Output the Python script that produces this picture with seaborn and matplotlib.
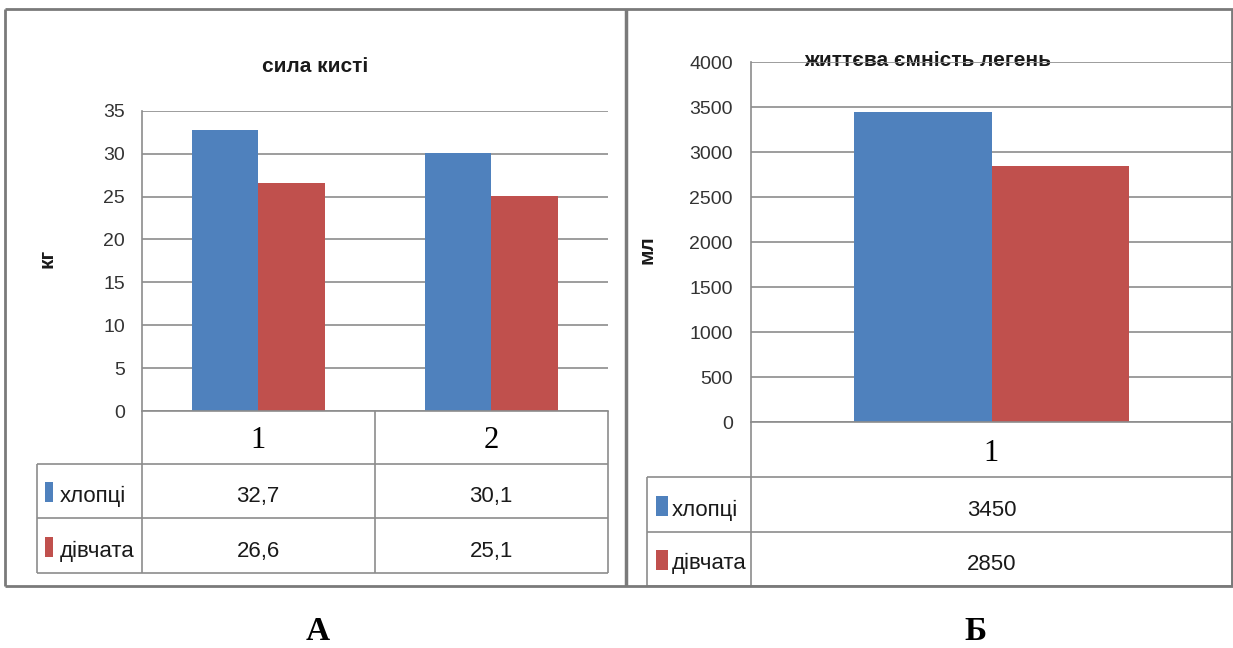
import matplotlib
matplotlib.use('Agg')
import matplotlib.pyplot as plt
import seaborn as sns
import pandas as pd
from matplotlib.transforms import Bbox, TransformedBbox

# ===== Дані =====
series = ['хлопці', 'дівчата']
colors = ['#4F81BD', '#C0504D']

# сила кисті, кг
sila_groups = ['1', '2']
sila_hloptsi = [32.7, 30.1]
sila_divchata = [26.6, 25.1]

# життєва ємність легень, мл
zhel_groups = ['1']
zhel_hloptsi = [3450]
zhel_divchata = [2850]

sila_yticks = [0, 5, 10, 15, 20, 25, 30, 35]
zhel_yticks = [0, 500, 1000, 1500, 2000, 2500, 3000, 3500, 4000]

# ===== Оформлення =====
sns.set_theme(style='white')
plt.rcParams['font.family'] = ['Liberation Sans', 'DejaVu Sans']

W, H = 1233, 648
GRID = '#8c8c8c'
LINE = '#8c8c8c'
TXT = '#1a1a1a'

fig = plt.figure(figsize=(W / 100, H / 100), dpi=100)
fig.patch.set_facecolor('white')


def box(x0, y0, x1, y1):
    # пікселі -> частки фігури
    return [x0 / W, 1 - y1 / H, (x1 - x0) / W, (y1 - y0) / H]


# фонова вісь у пікселях для рамок, таблиць і підписів
bg = fig.add_axes([0, 0, 1, 1], zorder=0)
bg.set_xlim(0, W)
bg.set_ylim(H, 0)
bg.axis('off')


def hline(y, x0, x1, color=LINE, lw=1.2):
    bg.plot([x0, x1], [y, y], color=color, lw=lw, solid_capstyle='butt')


def vline(x, y0, y1, color=LINE, lw=1.2):
    bg.plot([x, x], [y0, y1], color=color, lw=lw, solid_capstyle='butt')


def draw_chart(rect, groups, hl, dv, yticks, pad):
    ax = fig.add_axes(box(*rect), zorder=2)
    ax.patch.set_alpha(0)
    n = len(groups)
    df = pd.DataFrame({
        'група': groups * 2,
        'значення': hl + dv,
        'стать': [series[0]] * n + [series[1]] * n,
    })
    sns.barplot(data=df, x='група', y='значення', hue='стать', order=groups,
                hue_order=series, palette=colors, width=0.57, gap=0,
                saturation=1, errorbar=None, legend=False, linewidth=0, ax=ax)
    ax.set_xlim(-0.5, n - 0.5)
    ax.set_ylim(yticks[0], yticks[-1])
    ax.set_yticks(yticks)
    ax.set_yticklabels([str(t) for t in yticks], fontsize=14, color='#333333')
    ax.set_xticks([])
    ax.set_xlabel('')
    ax.set_ylabel('')
    ax.grid(axis='y', color=GRID, lw=1.2)
    ax.set_axisbelow(True)
    ax.tick_params(axis='y', length=0, pad=pad)
    for s in ['top', 'right']:
        ax.spines[s].set_visible(False)
    for s in ['left', 'bottom']:
        ax.spines[s].set_color(LINE)
        ax.spines[s].set_linewidth(1.2)
    return ax


# ===== А: сила кисті =====
L = dict(x0=141.7, x1=607.7, top=110.7, bot=411, tab=37, key=(45, 53), txt=60,
         rows=[(411, 464), (464, 518), (518, 572.7)])
draw_chart((L['x0'], L['top'], L['x1'], L['bot']), sila_groups,
           sila_hloptsi, sila_divchata, sila_yticks, 12)

# ===== Б: життєва ємність легень =====
R = dict(x0=750.7, x1=1232.3, top=62.3, bot=422.3, tab=647, key=(656, 668), txt=672,
         rows=[(422.3, 477.3), (477.3, 532.3), (532.3, 585.5)])
draw_chart((R['x0'], R['top'], R['x1'], R['bot']), zhel_groups,
           zhel_hloptsi, zhel_divchata, zhel_yticks, 13)


def draw_table(P, groups, hl, dv, fmt):
    n = len(groups)
    cw = (P['x1'] - P['x0']) / n
    (h0, h1), (r0, r1), (s0, s1) = P['rows']
    # рамки таблиці
    for i in range(n + 1):
        vline(P['x0'] + i * cw, h0, s1)
    vline(P['tab'], r0, s1)
    for y in (r0, s0, s1):
        hline(y, P['tab'], P['x1'])
    # заголовки категорій
    for i, g in enumerate(groups):
        bg.text(P['x0'] + (i + 0.5) * cw, h1 - 16, g, ha='center', va='baseline',
                fontsize=22, family='Liberation Serif', color='black')
    # рядки серій
    for vals, name, col, (y0, y1) in [(hl, series[0], colors[0], (r0, r1)),
                                      (dv, series[1], colors[1], (s0, s1))]:
        k0, k1 = P['key']
        bg.add_patch(plt.Rectangle((k0, y1 - 36), k1 - k0, 20, color=col, lw=0))
        bg.text(P['txt'], y1 - 16, name, ha='left', va='baseline', fontsize=16, color=TXT)
        for i, v in enumerate(vals):
            bg.text(P['x0'] + (i + 0.5) * cw, y1 - 16, fmt(v), ha='center',
                    va='baseline', fontsize=16, color=TXT)


draw_table(L, sila_groups, sila_hloptsi, sila_divchata,
           lambda v: f'{v:.1f}'.replace('.', ','))
draw_table(R, zhel_groups, zhel_hloptsi, zhel_divchata, lambda v: f'{v:d}')

# заголовки та підписи осей
bg.text(315, 72, 'сила кисті', ha='center', va='baseline', fontsize=15,
        fontweight='bold', color=TXT)
bg.text(928, 66, 'життєва ємність легень', ha='center', va='baseline', fontsize=15,
        fontweight='bold', color=TXT)
bg.text(47, 258, 'кг', rotation=90, ha='center', va='center', fontsize=15,
        fontweight='bold', color=TXT)
t = bg.text(647, 250, 'мл', rotation=90, ha='center', va='center', fontsize=15,
            fontweight='bold', color=TXT)
t.set_clip_box(TransformedBbox(Bbox([[641, 0], [700, H]]), bg.transData))

# рамки панелей
FRAME = '#7a7a7a'
hline(8.5, 5, W, color=FRAME, lw=2)
hline(585.5, 5, W, color=FRAME, lw=2)
vline(5, 8.5, 585.5, color=FRAME, lw=2)
vline(625.7, 8.5, 585.5, color=FRAME, lw=2.5)
vline(1232, 8.5, 585.5, color=FRAME, lw=2)

# підписи панелей
bg.text(318, 640, 'А', ha='center', va='baseline', fontsize=24, fontweight='bold',
        family='Liberation Serif', color='black')
bg.text(975, 640, 'Б', ha='center', va='baseline', fontsize=24, fontweight='bold',
        family='Liberation Serif', color='black')

plt.savefig('out.png', dpi=100, facecolor='white')
